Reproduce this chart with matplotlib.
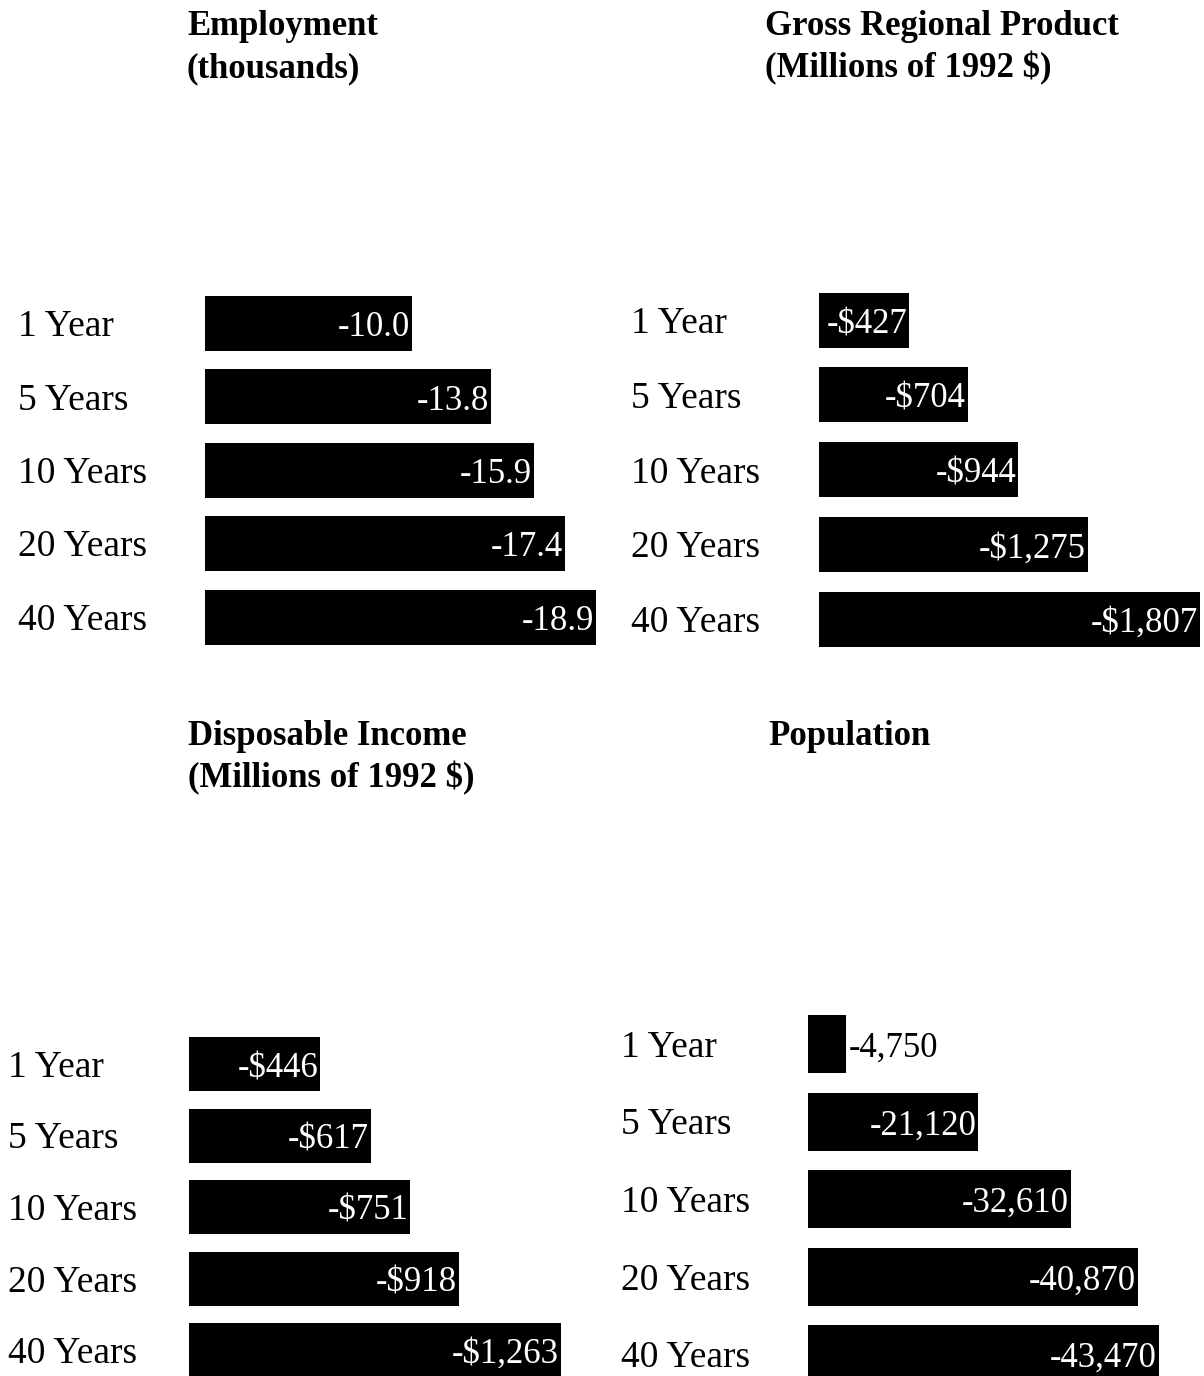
import matplotlib
matplotlib.use("Agg")
import matplotlib.pyplot as plt
import matplotlib.transforms as mtransforms

plt.rcParams['font.family'] = ['Liberation Serif', 'DejaVu Serif']

periods = ['1 Year', '5 Years', '10 Years', '20 Years', '40 Years']

employment = [-10.0, -13.8, -15.9, -17.4, -18.9]
grp = [-427, -704, -944, -1275, -1807]
disp_income = [-446, -617, -751, -918, -1263]
population = [-4750, -21120, -32610, -40870, -43470]

employment_labels = ['-10.0', '-13.8', '-15.9', '-17.4', '-18.9']
grp_labels = ['-$427', '-$704', '-$944', '-$1,275', '-$1,807']
disp_income_labels = ['-$446', '-$617', '-$751', '-$918', '-$1,263']
population_labels = ['-4,750', '-21,120', '-32,610', '-40,870', '-43,470']

W, H = 1204, 1376
fig = plt.figure(figsize=(W / 100, H / 100), dpi=100)


def panel(values, labels, title_lines, title_x, title_ys, label_x, bar_x0,
          px_per_unit, first_center, step, bar_px, outside=()):
    # everything below is given in pixels of the 1204x1376 figure
    right_px = W - 2
    top_px = first_center - step / 2
    bot_px = first_center + step * (len(values) - 0.5)
    ax = fig.add_axes([bar_x0 / W, 1 - bot_px / H,
                       (right_px - bar_x0) / W, (bot_px - top_px) / H])
    ax.set_xlim(0, (right_px - bar_x0) / px_per_unit)
    ax.set_ylim(len(values) - 0.5, -0.5)
    ax.axis('off')

    mags = [-v for v in values]
    ypos = list(range(len(values)))
    ax.barh(ypos, mags, height=bar_px / step, color='black')

    # put baselines a bit under the bar centre so the caps sit centred
    base = 13 / step
    pad = 2 / px_per_unit
    for i, (m, lab) in enumerate(zip(mags, labels)):
        if i in outside:
            ax.text(m + pad, i + base, lab, ha='left', va='baseline',
                    color='black', fontsize=25)
        else:
            ax.text(m - pad, i + base, lab, ha='right', va='baseline',
                    color='white', fontsize=25)

    trans = mtransforms.blended_transform_factory(fig.transFigure, ax.transData)
    for i, p in enumerate(periods):
        ax.text(label_x / W, i + base, p, transform=trans, ha='left',
                va='baseline', fontsize=27, clip_on=False)

    for line, ty in zip(title_lines, title_ys):
        fig.text(title_x / W, 1 - ty / H, line, ha='left', va='baseline',
                 fontsize=25, fontweight='bold')


panel(employment, employment_labels, ['Employment', '(thousands)'],
      187, (35, 77), 18, 205, 20.7, 323, 73.5, 55)
panel(grp, grp_labels, ['Gross Regional Product', '(Millions of 1992 $)'],
      765, (35, 77), 631, 819, 0.211, 320, 74.8, 55)
panel(disp_income, disp_income_labels, ['Disposable Income', '(Millions of 1992 $)'],
      188, (745, 787), 8, 189, 0.2945, 1064, 71.5, 54)
panel(population, population_labels, ['Population'],
      768, (745,), 621, 808, 0.00807, 1044, 77.5, 58, outside=(0,))

fig.savefig('out.png', dpi=100, facecolor='white')
